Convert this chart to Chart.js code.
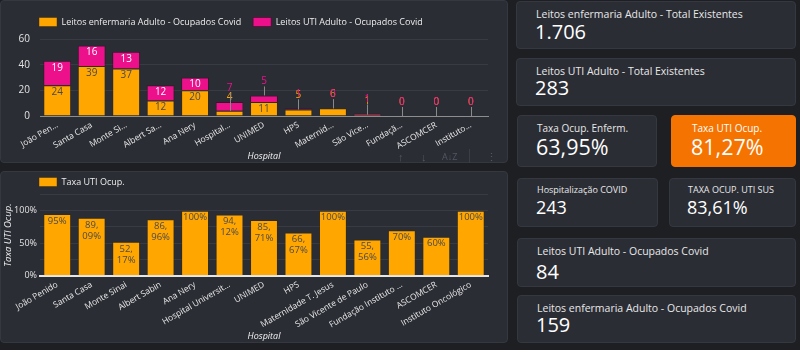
<!DOCTYPE html>
<html>
<head>
<meta charset="utf-8">
<script src="https://cdn.jsdelivr.net/npm/chart.js@4"></script>
<style>
  html, body { margin:0; padding:0; }
  body { width:800px; height:350px; overflow:hidden; background:#1e1f23; font-family:'Open Sans', 'Noto Sans', sans-serif; position:relative; }
  .panel { position:absolute; box-sizing:border-box; background:#2b2d35; border:1px solid #363841; border-radius:4px; }
  .orange { background:#f57300; border-color:#f57300; }
  .chartbox { position:absolute; }
  .t { position:absolute; white-space:nowrap; color:#e8e8e8; }
  .v { position:absolute; white-space:nowrap; color:#ffffff; }
  .icon { position:absolute; color:#555760; font-size:11px; line-height:12px; }
</style>
</head>
<body>
<!-- left panels -->
<div class="panel" style="left:0;top:0;width:508px;height:163px"></div>
<div class="panel" style="left:0;top:171px;width:508px;height:172px"></div>

<div class="chartbox" style="left:0;top:0;width:507px;height:162px"><canvas id="c1"></canvas></div>
<div class="chartbox" style="left:0;top:171px;width:507px;height:171px"><canvas id="c2"></canvas></div>

<div class="icon" style="left:398px;top:151px;">&#8593;</div>
<div class="icon" style="left:421px;top:151px;">&#8595;</div>
<div class="icon" style="left:442px;top:151px;font-size:9px;">A&#8595;Z</div>
<div style="position:absolute;left:469px;top:149px;width:1px;height:14px;background:#3c3e47"></div>
<div class="icon" style="left:486px;top:151px;">&#8942;</div>

<!-- KPI cards -->
<div class="panel" style="left:516px;top:1px;width:280px;height:48px"></div>
<div class="t" style="left:536px;top:7px;font-size:10.5px;line-height:14px">Leitos enfermaria Adulto - Total Existentes</div>
<div class="v" style="left:535px;top:20px;font-size:20px;line-height:24px">1.706</div>

<div class="panel" style="left:516px;top:58px;width:280px;height:48px"></div>
<div class="t" style="left:536px;top:64px;font-size:10.5px;line-height:14px">Leitos UTI Adulto - Total Existentes</div>
<div class="v" style="left:535px;top:76px;font-size:20px;line-height:24px">283</div>

<div class="panel" style="left:517px;top:115px;width:140px;height:52px"></div>
<div class="t" style="left:537px;top:121px;font-size:10px;line-height:14px">Taxa Ocup. Enferm.</div>
<div class="v" style="left:536px;top:134px;font-size:21.5px;line-height:26px">63,95%</div>

<div class="panel orange" style="left:671px;top:115px;width:125px;height:52px"></div>
<div class="t" style="left:692px;top:121px;font-size:10px;line-height:14px;color:#fff">Taxa UTI Ocup.</div>
<div class="v" style="left:691px;top:134px;font-size:21.5px;line-height:26px">81,27%</div>

<div class="panel" style="left:517px;top:178px;width:141px;height:49px"></div>
<div class="t" style="left:537px;top:183px;font-size:9px;line-height:13px">Hospitalização COVID</div>
<div class="v" style="left:536px;top:196px;font-size:18px;line-height:22px">243</div>

<div class="panel" style="left:669px;top:178px;width:127px;height:49px"></div>
<div class="t" style="left:688px;top:183px;font-size:9px;line-height:13px">TAXA OCUP. UTI SUS</div>
<div class="v" style="left:687px;top:196px;font-size:18px;line-height:22px">83,61%</div>

<div class="panel" style="left:517px;top:238px;width:279px;height:49px"></div>
<div class="t" style="left:537px;top:244px;font-size:10.5px;line-height:14px">Leitos UTI Adulto - Ocupados Covid</div>
<div class="v" style="left:536px;top:260px;font-size:20px;line-height:24px">84</div>

<div class="panel" style="left:517px;top:295px;width:279px;height:48px"></div>
<div class="t" style="left:537px;top:301px;font-size:10.5px;line-height:14px">Leitos enfermaria Adulto - Ocupados Covid</div>
<div class="v" style="left:536px;top:313px;font-size:20px;line-height:24px">159</div>

<script>
// ---------------- data ----------------
const hospitalsShort = ["João Pen...", "Santa Casa", "Monte Si...", "Albert Sa...", "Ana Nery", "Hospital...", "UNIMED", "HPS", "Maternid...", "São Vice...", "Fundaçã...", "ASCOMCER", "Instituto..."];
const hospitals = ["João Penido", "Santa Casa", "Monte Sinai", "Albert Sabin", "Ana Nery", "Hospital Universit...", "UNIMED", "HPS", "Maternidade T. Jesus", "São Vicente de Paulo", "Fundação Instituto ...", "ASCOMCER", "Instituto Oncológico"];
const enfermariaOcupados = [24, 39, 37, 12, 20, 4, 11, 5, 6, 1, 0, 0, 0];
const utiOcupados = [19, 16, 13, 12, 10, 7, 5, 1, 0, 1, 0, 0, 0];
const taxaUti = [95, 89.09, 52.17, 86.96, 100, 94.12, 85.71, 66.67, 100, 55.56, 70, 60, 100];
const yTicks1 = [0, 20, 40, 60];
const yTicks2 = [0, 50, 100];

const seriesNames = ["Leitos enfermaria Adulto - Ocupados Covid", "Leitos UTI Adulto - Ocupados Covid"];
const seriesName2 = "Taxa UTI Ocup.";

// ---------------- styles ----------------
const F = "'Open Sans', 'Noto Sans', sans-serif";
const ORANGE = '#ffa600';
const PINK = '#ec118b';
const GRID = '#393b44';

// legend fine-tuning plugin (height / horizontal shift)
const legendFit = {
  id: 'legendFit',
  afterInit(chart, args, opts) {
    const lg = chart.legend;
    if (!lg) return;
    const orig = lg.fit;
    lg.fit = function () { orig.call(this); this.height = Math.max(0, this.height + (opts.extra || 0)); };
  },
  afterLayout(chart, args, opts) {
    const lg = chart.legend;
    if (lg && opts.dx) { lg.left += opts.dx; lg.right += opts.dx; }
  }
};

// value labels plugin
const valueLabels = {
  id: 'valueLabels',
  afterDatasetsDraw(chart, args, opts) {
    const ctx = chart.ctx;
    ctx.save();
    ctx.font = opts.font;
    ctx.textAlign = 'center';
    ctx.textBaseline = 'middle';
    chart.data.datasets.forEach((ds, di) => {
      const meta = chart.getDatasetMeta(di);
      meta.data.forEach((bar, i) => {
        const v = ds.data[i];
        const p = bar.getProps(['x', 'y', 'base'], true);
        const top = Math.min(p.y, p.base);
        const h = Math.abs(p.base - p.y);
        const lines = opts.format(v);
        if (h >= opts.minInside) {
          ctx.fillStyle = opts.insideColors[di];
          lines.forEach((t, k) => ctx.fillText(t, p.x, top + opts.insideOffset + k * opts.lineHeight));
        } else {
          const ly = top - opts.outsideOffset;
          const lx = Math.round(p.x) + 0.5;
          ctx.strokeStyle = opts.leaderColor;
          ctx.lineWidth = 1;
          ctx.beginPath();
          ctx.moveTo(lx, ly + 5);
          ctx.lineTo(lx, top);
          ctx.stroke();
          ctx.fillStyle = opts.outsideColors[di];
          ctx.fillText(lines[0], p.x, ly);
        }
      });
    });
    ctx.restore();
  }
};

// ---------------- chart 1 ----------------
new Chart(document.getElementById('c1'), {
  type: 'bar',
  data: {
    labels: hospitalsShort,
    datasets: [
      { label: seriesNames[0], data: enfermariaOcupados, backgroundColor: ORANGE, borderColor: 'rgba(60,40,0,0.45)', borderWidth: 1, categoryPercentage: 0.81, barPercentage: 1 },
      { label: seriesNames[1], data: utiOcupados, backgroundColor: PINK, borderColor: 'rgba(60,0,30,0.45)', borderWidth: 1, categoryPercentage: 0.81, barPercentage: 1 }
    ]
  },
  options: {
    responsive: true, maintainAspectRatio: false, animation: false,
    layout: { padding: { left: 0, top: 5.5, right: 19, bottom: 0 } },
    plugins: {
      legend: {
        position: 'top', align: 'start', fullSize: true,
        labels: { color: '#ececec', font: { family: F, size: 9 }, boxWidth: 18, boxHeight: 9, padding: 12 }
      },
      tooltip: { enabled: false },
      legendFit: { extra: 2.5, dx: 27 },
      valueLabels: {
        font: "10px 'Open Sans'",
        format: v => [String(v)],
        minInside: 12, insideOffset: 7, lineHeight: 11, outsideOffset: 14,
        insideColors: ['#4a4a4a', '#ffffff'], outsideColors: [ORANGE, PINK], leaderColor: '#8a8a8a'
      }
    },
    scales: {
      x: {
        stacked: true,
        grid: { display: false, drawTicks: false },
        border: { display: true, color: '#8d8d8d', width: 1 },
        ticks: { color: '#e8e8e8', font: { family: F, size: 8.5 }, maxRotation: 30, minRotation: 30, autoSkip: false, padding: 4 },
        title: { display: true, text: 'Hospital', color: '#f2f2f2', font: { family: F, size: 9, style: 'italic' }, padding: 0 },
        afterFit: s => { s.height = 46; }
      },
      y: {
        stacked: true, min: 0, max: 60,
        grid: { color: GRID, drawTicks: false },
        border: { display: false },
        ticks: { stepSize: 10, color: '#e2e2e2', font: { family: F, size: 10 }, padding: 10,
                 callback: v => yTicks1.includes(v) ? String(v) : '' },
        afterFit: s => { s.width = 40; }
      }
    }
  },
  plugins: [legendFit, valueLabels]
});

// ---------------- chart 2 ----------------
new Chart(document.getElementById('c2'), {
  type: 'bar',
  data: {
    labels: hospitals,
    datasets: [
      { label: seriesName2, data: taxaUti, backgroundColor: ORANGE, borderColor: 'rgba(60,40,0,0.45)', borderWidth: 1, categoryPercentage: 0.81, barPercentage: 1 }
    ]
  },
  options: {
    responsive: true, maintainAspectRatio: false, animation: false,
    layout: { padding: { left: 2, top: 4.5, right: 19, bottom: 0 } },
    plugins: {
      legend: {
        position: 'top', align: 'start', fullSize: false,
        labels: { color: '#ececec', font: { family: F, size: 9 }, boxWidth: 18, boxHeight: 9, padding: 2 }
      },
      tooltip: { enabled: false },
      legendFit: { extra: -2, dx: -3 },
      valueLabels: {
        font: "9.5px 'Open Sans'",
        format: v => {
          if (Number.isInteger(v)) return [v + '%'];
          const parts = v.toFixed(2).split('.');
          return [parts[0] + ',', parts[1] + '%'];
        },
        minInside: 12, insideOffset: 7, lineHeight: 11, outsideOffset: 14,
        insideColors: ['#4a4a4a'], outsideColors: [ORANGE], leaderColor: '#8a8a8a'
      }
    },
    scales: {
      x: {
        grid: { display: false, drawTicks: false },
        border: { display: true, color: '#e6e6e6', width: 2 },
        ticks: { color: '#e8e8e8', font: { family: F, size: 8.5 }, maxRotation: 30, minRotation: 30, autoSkip: false, padding: 4 },
        title: { display: true, text: 'Hospital', color: '#f2f2f2', font: { family: F, size: 9, style: 'italic' }, padding: 0 },
        afterFit: s => { s.height = 66.3; }
      },
      y: {
        min: 0, max: 125,
        grid: { color: GRID, drawTicks: false },
        border: { display: false },
        ticks: { stepSize: 25, color: '#e2e2e2', font: { family: F, size: 9 }, padding: 3,
                 callback: v => yTicks2.includes(v) ? v + '%' : '' },
        title: { display: true, text: 'Taxa UTI Ocup.', color: '#f2f2f2', font: { family: F, size: 9.5, style: 'italic' }, padding: { top: 1, bottom: 0 } },
        afterFit: s => { s.width = 38; }
      }
    }
  },
  plugins: [legendFit, valueLabels]
});
</script>
</body>
</html>
